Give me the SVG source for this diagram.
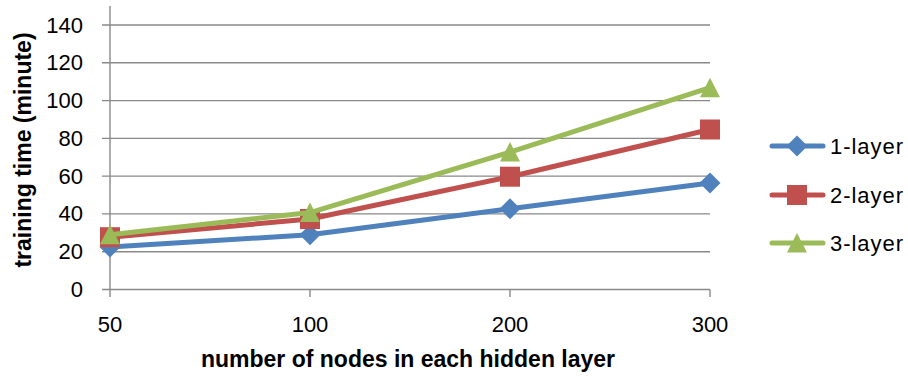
<svg xmlns="http://www.w3.org/2000/svg" width="908" height="377" viewBox="0 0 908 377">
  <style>
    text { font-family: "Liberation Sans", Arial, sans-serif; fill: #000; }
    .tick { font-size: 22px; }
    .ylab { text-anchor: end; }
    .xlab { text-anchor: middle; }
    .title { font-size: 23px; font-weight: bold; }
    .grid { stroke: #898989; stroke-width: 1.4; fill: none; }
    .series { fill: none; stroke-width: 5; stroke-linejoin: round; stroke-linecap: round; }
    .s1 { stroke: #4F81BD; }
    .s2 { stroke: #C0504D; }
    .s3 { stroke: #9BBB59; }
    .m1 { fill: #4F81BD; }
    .m2 { fill: #C0504D; }
    .m3 { fill: #9BBB59; }
  </style>
  <defs>
    <path id="diamond" d="M0,-10.5 L10.5,0 L0,10.5 L-10.5,0 Z"/>
    <rect id="square" x="-10" y="-10" width="20" height="20"/>
    <path id="triangle" d="M0,-10 L10,9.5 L-10,9.5 Z"/>
  </defs>

  <rect width="908" height="377" fill="#fff"/>

  <!-- horizontal gridlines, value axis 0..140 step 20 -->
  <g id="gridlines" class="grid">
    <line x1="102" y1="25" x2="710" y2="25"/>
    <line x1="102" y1="62.8" x2="710" y2="62.8"/>
    <line x1="102" y1="100.6" x2="710" y2="100.6"/>
    <line x1="102" y1="138.4" x2="710" y2="138.4"/>
    <line x1="102" y1="176.1" x2="710" y2="176.1"/>
    <line x1="102" y1="213.9" x2="710" y2="213.9"/>
    <line x1="102" y1="251.7" x2="710" y2="251.7"/>
  </g>

  <!-- axes with tick marks -->
  <g id="axes" class="grid">
    <line x1="110" y1="6" x2="110" y2="289.5"/>
    <line x1="102" y1="289.5" x2="710" y2="289.5"/>
    <line x1="110" y1="289.5" x2="110" y2="297"/>
    <line x1="310" y1="289.5" x2="310" y2="297"/>
    <line x1="510" y1="289.5" x2="510" y2="297"/>
    <line x1="710" y1="289.5" x2="710" y2="297"/>
  </g>

  <!-- value axis labels -->
  <g id="y-labels" class="tick ylab">
    <text x="83" y="32.5">140</text>
    <text x="83" y="70.3">120</text>
    <text x="83" y="108.1">100</text>
    <text x="83" y="145.9">80</text>
    <text x="83" y="183.6">60</text>
    <text x="83" y="221.4">40</text>
    <text x="83" y="259.2">20</text>
    <text x="83" y="297">0</text>
  </g>

  <!-- category axis labels -->
  <g id="x-labels" class="tick xlab">
    <text x="110" y="332">50</text>
    <text x="310" y="332">100</text>
    <text x="510" y="332">200</text>
    <text x="710" y="332">300</text>
  </g>

  <text id="x-title" class="title" x="408" y="367" text-anchor="middle">number of nodes in each hidden layer</text>
  <text id="y-title" class="title" transform="translate(31,150) rotate(-90)" text-anchor="middle">training time (minute)</text>

  <!-- data series -->
  <g id="connectors">
    <polyline id="line-1-layer" class="series s1" points="110,247 310,234.7 510,208.8 710,183.1"/>
  </g>
  <g id="markers-1-layer" class="m1">
    <use href="#diamond" x="110" y="247"/>
    <use href="#diamond" x="310" y="234.7"/>
    <use href="#diamond" x="510" y="208.8"/>
    <use href="#diamond" x="710" y="183.1"/>
  </g>
  <g id="connectors-2">
    <polyline id="line-2-layer" class="series s2" points="110,237.2 310,219 510,176.7 710,129.5"/>
  </g>
  <g id="markers-2-layer" class="m2">
    <use href="#square" x="110" y="237.2"/>
    <use href="#square" x="310" y="219"/>
    <use href="#square" x="510" y="176.7"/>
    <use href="#square" x="710" y="129.5"/>
  </g>
  <g id="connectors-3">
    <polyline id="line-3-layer" class="series s3" points="110,234.7 310,212.6 510,152.1 710,87.7"/>
  </g>
  <g id="markers-3-layer" class="m3">
    <use href="#triangle" x="110" y="234.7"/>
    <use href="#triangle" x="310" y="212.6"/>
    <use href="#triangle" x="510" y="152.1"/>
    <use href="#triangle" x="710" y="87.7"/>
  </g>

  <!-- legend -->
  <g id="legend" class="tick">
    <g id="legend-1">
      <line class="series s1" x1="772" y1="146" x2="823" y2="146"/>
      <use href="#diamond" class="m1" x="797" y="146"/>
      <text x="830" y="154" textLength="73">1-layer</text>
    </g>
    <g id="legend-2">
      <line class="series s2" x1="772" y1="195" x2="823" y2="195"/>
      <use href="#square" class="m2" x="797" y="195"/>
      <text x="830" y="203" textLength="73">2-layer</text>
    </g>
    <g id="legend-3">
      <line class="series s3" x1="772" y1="243" x2="823" y2="243"/>
      <use href="#triangle" class="m3" x="797" y="243"/>
      <text x="830" y="251" textLength="73">3-layer</text>
    </g>
  </g>
</svg>
